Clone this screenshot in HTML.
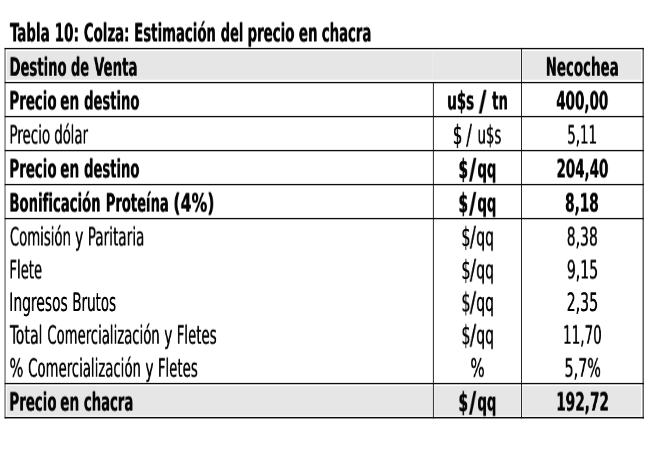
<!DOCTYPE html>
<html lang="es"><head><meta charset="utf-8"><title>Tabla 10: Colza</title>
<style>
html,body{margin:0;padding:0;background:#fff;}
body{width:650px;height:450px;position:relative;overflow:hidden;font-family:'DejaVu Sans Condensed', 'DejaVu Sans', 'Liberation Sans', sans-serif;color:#000;}
svg{position:absolute;left:0;top:0;}
.p{margin:0;padding:0;}
.t{position:absolute;display:block;left:0;top:0;white-space:nowrap;line-height:1;text-rendering:geometricPrecision;font-size:25.3px;height:25.3px;transform-origin:0 21.0px;will-change:transform;color:#050505;text-shadow:0.45px 0 0 #050505;}
.b{font-weight:bold;text-shadow:0.5px 0 0 #050505;}
.sl{text-shadow:0.3px 0 0 #050505;}
.b.sl{text-shadow:1.0px 0 0 #050505;}

</style></head><body>
<svg width="650" height="450" viewBox="0 0 650 450">
<rect x="6.8" y="51.1" width="513.8" height="28.6" fill="#e6e6e6"/>
<rect x="522.4" y="51.1" width="118.6" height="28.6" fill="#e6e6e6"/>
<rect x="431.9" y="51.1" width="1.2" height="28.6" fill="#ebebeb"/>
<rect x="6.8" y="386" width="425.7" height="29.7" fill="#e6e6e6"/>
<rect x="434.3" y="386" width="86.3" height="29.7" fill="#e6e6e6"/>
<rect x="522.4" y="386" width="118.6" height="29.7" fill="#e6e6e6"/>
<rect x="4.4" y="47.91" width="1.3" height="370.54" fill="#707070"/>
<rect x="642.5" y="47.91" width="1.4" height="370.54" fill="#505050"/>
<rect x="432.9" y="82.5" width="1" height="335.95" fill="#2a2a2a"/>
<rect x="521" y="47.91" width="1" height="370.54" fill="#2a2a2a"/>
<rect x="4.7" y="47.91" width="639.2" height="1.35" fill="#0c0c0c"/>
<rect x="4.7" y="81.91" width="639.2" height="1.35" fill="#0c0c0c"/>
<rect x="4.7" y="115.91" width="639.2" height="1.35" fill="#0c0c0c"/>
<rect x="4.7" y="149.91" width="639.2" height="1.35" fill="#0c0c0c"/>
<rect x="4.7" y="183.91" width="639.2" height="1.35" fill="#0c0c0c"/>
<rect x="4.7" y="217.91" width="639.2" height="1.35" fill="#0c0c0c"/>
<rect x="4.7" y="382.9" width="639.2" height="1.35" fill="#0c0c0c"/>
<rect x="4.7" y="416.95" width="639.2" height="1.5" fill="#0c0c0c"/>
</svg>
<div class="p"><span id="titlew0" class="t b" style="transform:translate(9.85px,20.5px) scale(0.5920,1)">Tabla</span> <span id="titlew1" class="t b" style="transform:translate(54.50px,20.5px) scale(0.5944,1)">10:</span> <span id="titlew2" class="t b" style="transform:translate(83.66px,20.5px) scale(0.5864,1)">Colza:</span> <span id="titlew3" class="t b" style="transform:translate(134.10px,20.5px) scale(0.5831,1)">Estimación</span> <span id="titlew4" class="t b" style="transform:translate(220.68px,20.5px) scale(0.5700,1)">del</span> <span id="titlew5" class="t b" style="transform:translate(247.30px,20.5px) scale(0.5876,1)">precio</span> <span id="titlew6" class="t b" style="transform:translate(298.69px,20.5px) scale(0.5902,1)">en</span> <span id="titlew7" class="t b" style="transform:translate(321.69px,20.5px) scale(0.5813,1)">chacra</span></div>
<div class="p"><span id="r0aw0" class="t b" style="transform:translate(9.31px,54.75px) scale(0.5810,1)">Destino</span> <span id="r0aw1" class="t b" style="transform:translate(70.85px,54.75px) scale(0.5700,1)">de</span> <span id="r0aw2" class="t b" style="transform:translate(93.81px,54.75px) scale(0.5864,1)">Venta</span></div>
<div class="p"><span id="r0c" class="t b" style="transform:translate(545.53px,54.75px) scale(0.5885,1)">Necochea</span></div>
<div class="p"><span id="r1aw0" class="t b" style="transform:translate(9.21px,88.5px) scale(0.5883,1)">Precio</span> <span id="r1aw1" class="t b" style="transform:translate(59.99px,88.5px) scale(0.6008,1)">en</span> <span id="r1aw2" class="t b" style="transform:translate(83.94px,88.5px) scale(0.5765,1)">destino</span></div>
<div class="p"><span id="r1bw0" class="t b" style="transform:translate(447.07px,88.5px) scale(0.5892,1)">u$s</span> <span id="r1bw1" class="t b sl" style="transform:translate(478.76px,89.55px) scale(0.8364,1.125)">/</span> <span id="r1bw2" class="t b" style="transform:translate(491.95px,88.5px) scale(0.5810,1)">tn</span></div>
<div class="p"><span id="r1c" class="t b" style="transform:translate(556.05px,88.5px) scale(0.5922,1)">400,00</span></div>
<div class="p"><span id="r2aw0" class="t" style="transform:translate(9.29px,122.55px) scale(0.5921,1)">Precio</span> <span id="r2aw1" class="t" style="transform:translate(54.11px,122.55px) scale(0.5805,1)">dólar</span></div>
<div class="p"><span id="r2bw0" class="t" style="transform:translate(452.45px,123.32px) scale(0.6791,1.055)">$</span> <span id="r2bw1" class="t sl" style="transform:translate(466.04px,123.4px) scale(0.7543,1.1)">/</span> <span id="r2bw2" class="t" style="transform:translate(477.34px,122.55px) scale(0.5838,1)">u$s</span></div>
<div class="p"><span id="r2c" class="t" style="transform:translate(567.08px,122.55px) scale(0.5856,1)">5,11</span></div>
<div class="p"><span id="r3aw0" class="t b" style="transform:translate(9.21px,156.5px) scale(0.5883,1)">Precio</span> <span id="r3aw1" class="t b" style="transform:translate(60.03px,156.5px) scale(0.5995,1)">en</span> <span id="r3aw2" class="t b" style="transform:translate(83.91px,156.5px) scale(0.5768,1)">destino</span></div>
<div class="p"><span id="r3bw0" class="t b" style="transform:translate(458.28px,157.32px) scale(0.6044,1.05)">$</span><span id="r3bw1" class="t b sl" style="transform:translate(468.97px,157.55px) scale(0.7989,1.125)">/</span><span id="r3bw2" class="t b" style="transform:translate(477.21px,156.5px) scale(0.5848,1)">qq</span></div>
<div class="p"><span id="r3c" class="t b" style="transform:translate(556.32px,156.5px) scale(0.5903,1)">204,40</span></div>
<div class="p"><span id="r4aw0" class="t b" style="transform:translate(9.26px,190.6px) scale(0.5819,1)">Bonificación</span> <span id="r4aw1" class="t b" style="transform:translate(105.52px,190.6px) scale(0.5778,1)">Proteína</span> <span id="r4aw2" class="t b" style="transform:translate(173.13px,190.6px) scale(0.6929,1)">(4%)</span></div>
<div class="p"><span id="r4bw0" class="t b" style="transform:translate(458.27px,191.42px) scale(0.6050,1.05)">$</span><span id="r4bw1" class="t b sl" style="transform:translate(468.97px,191.65px) scale(0.7970,1.125)">/</span><span id="r4bw2" class="t b" style="transform:translate(477.18px,190.6px) scale(0.5857,1)">qq</span></div>
<div class="p"><span id="r4c" class="t b" style="transform:translate(564.99px,190.6px) scale(0.5991,1)">8,18</span></div>
<div class="p"><span id="r5aw0" class="t" style="transform:translate(9.76px,224.5px) scale(0.5820,1)">Comisión</span> <span id="r5aw1" class="t" style="transform:translate(74.97px,224.5px) scale(0.6086,1)">y</span> <span id="r5aw2" class="t" style="transform:translate(87.57px,224.5px) scale(0.5986,1)">Paritaria</span></div>
<div class="p"><span id="r5c" class="t" style="transform:translate(566.52px,224.5px) scale(0.6135,1)">8,38</span></div>
<div class="p"><span id="r6a" class="t" style="transform:translate(9.27px,257.5px) scale(0.5814,1)">Flete</span></div>
<div class="p"><span id="r6c" class="t" style="transform:translate(566.66px,257.5px) scale(0.6159,1)">9,15</span></div>
<div class="p"><span id="r7aw0" class="t" style="transform:translate(9.12px,289.95px) scale(0.6084,1)">Ingresos</span> <span id="r7aw1" class="t" style="transform:translate(72.19px,289.95px) scale(0.5903,1)">Brutos</span></div>
<div class="p"><span id="r7c" class="t" style="transform:translate(566.46px,289.95px) scale(0.6198,1)">2,35</span></div>
<div class="p"><span id="r8aw0" class="t" style="transform:translate(9.68px,322.7px) scale(0.6200,1)">Total</span> <span id="r8aw1" class="t" style="transform:translate(47.20px,322.7px) scale(0.5813,1)">Comercialización</span> <span id="r8aw2" class="t" style="transform:translate(164.09px,322.7px) scale(0.6060,1)">y</span> <span id="r8aw3" class="t" style="transform:translate(176.57px,322.7px) scale(0.5850,1)">Fletes</span></div>
<div class="p"><span id="r8c" class="t" style="transform:translate(562.81px,322.7px) scale(0.5959,1)">11,70</span></div>
<div class="p"><span id="r9aw0" class="t" style="transform:translate(9.26px,355.7px) scale(0.6438,1)">%</span> <span id="r9aw1" class="t" style="transform:translate(28.02px,355.7px) scale(0.5835,1)">Comercialización</span> <span id="r9aw2" class="t" style="transform:translate(145.16px,355.7px) scale(0.6172,1)">y</span> <span id="r9aw3" class="t" style="transform:translate(157.69px,355.7px) scale(0.5855,1)">Fletes</span></div>
<div class="p"><span id="r9b" class="t" style="transform:translate(470.16px,355.7px) scale(0.6636,1)">%</span></div>
<div class="p"><span id="r9c" class="t" style="transform:translate(564.28px,355.7px) scale(0.6306,1)">5,7%</span></div>
<div class="p"><span id="r10aw0" class="t b" style="transform:translate(9.21px,389.6px) scale(0.5877,1)">Precio</span> <span id="r10aw1" class="t b" style="transform:translate(60.00px,389.6px) scale(0.6010,1)">en</span> <span id="r10aw2" class="t b" style="transform:translate(83.75px,389.6px) scale(0.5802,1)">chacra</span></div>
<div class="p"><span id="r10bw0" class="t b" style="transform:translate(458.27px,390.42px) scale(0.6050,1.05)">$</span><span id="r10bw1" class="t b sl" style="transform:translate(468.97px,390.65px) scale(0.7970,1.125)">/</span><span id="r10bw2" class="t b" style="transform:translate(477.18px,389.6px) scale(0.5857,1)">qq</span></div>
<div class="p"><span id="r10c" class="t b" style="transform:translate(556.02px,389.6px) scale(0.6001,1)">192,72</span></div>
<div class="p"><span id="r5bw0" class="t" style="transform:translate(461.22px,225.27px) scale(0.6273,1.055)">$</span><span id="r5bw1" class="t sl" style="transform:translate(469.83px,225.35px) scale(0.7788,1.1)">/</span><span id="r5bw2" class="t" style="transform:translate(476.06px,224.5px) scale(0.6122,1)">qq</span></div>
<div class="p"><span id="r6bw0" class="t" style="transform:translate(461.24px,258.27px) scale(0.6265,1.055)">$</span><span id="r6bw1" class="t sl" style="transform:translate(469.82px,258.35px) scale(0.8004,1.1)">/</span><span id="r6bw2" class="t" style="transform:translate(476.06px,257.5px) scale(0.6122,1)">qq</span></div>
<div class="p"><span id="r7bw0" class="t" style="transform:translate(461.21px,290.72px) scale(0.6311,1.055)">$</span><span id="r7bw1" class="t sl" style="transform:translate(469.73px,290.8px) scale(0.8202,1.1)">/</span><span id="r7bw2" class="t" style="transform:translate(476.09px,289.95px) scale(0.6110,1)">qq</span></div>
<div class="p"><span id="r8bw0" class="t" style="transform:translate(461.26px,323.47px) scale(0.6244,1.055)">$</span><span id="r8bw1" class="t sl" style="transform:translate(469.76px,323.55px) scale(0.8226,1.1)">/</span><span id="r8bw2" class="t" style="transform:translate(476.09px,322.7px) scale(0.6112,1)">qq</span></div>
</body></html>
